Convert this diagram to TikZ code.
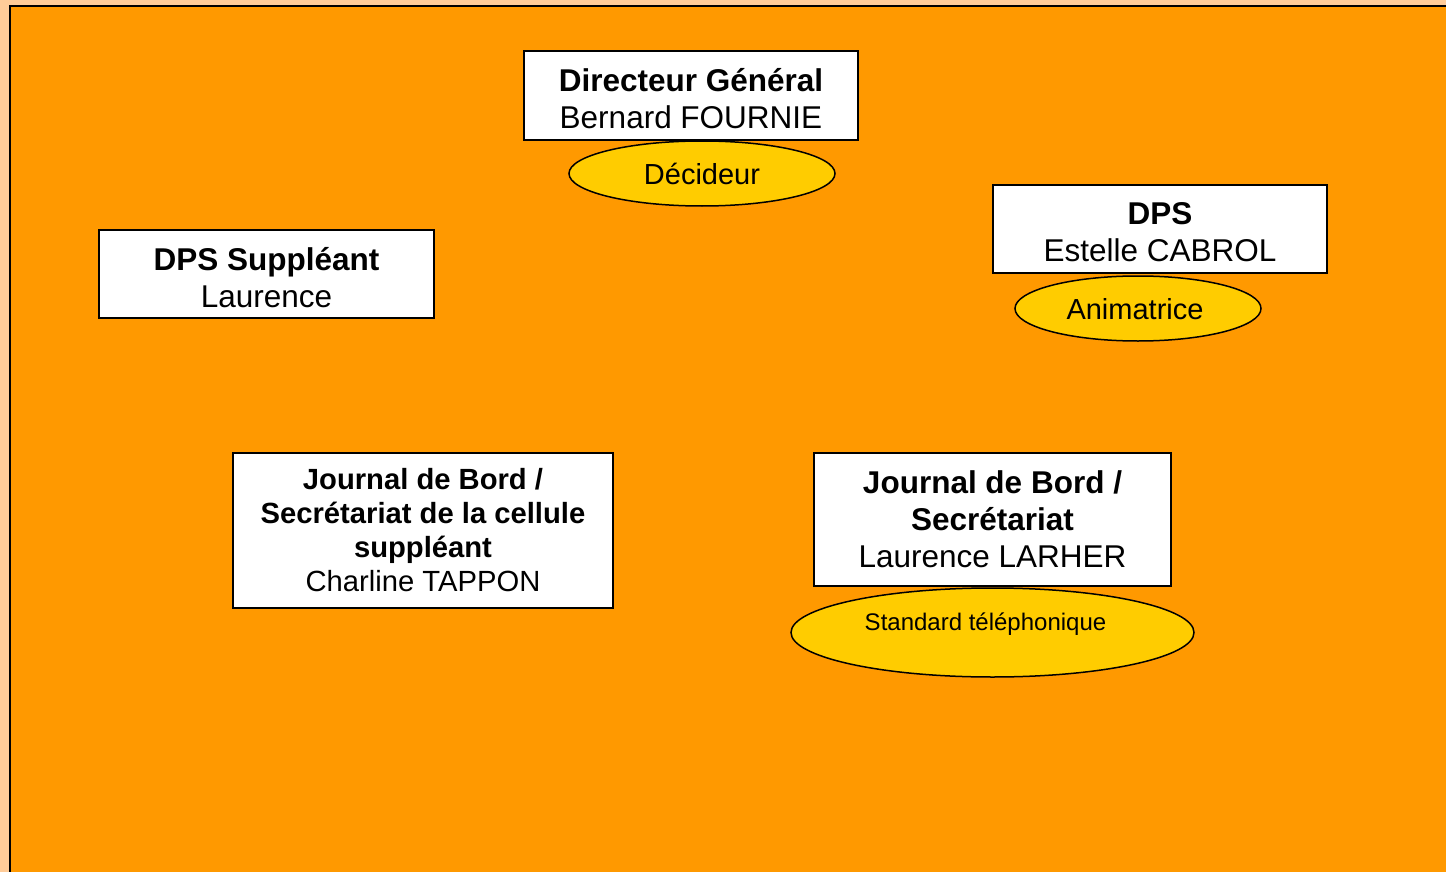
\documentclass[tikz,border=0pt]{standalone}
\usepackage{fontspec}
\setmainfont{Liberation Sans}
\usetikzlibrary{shapes.geometric}
\definecolor{peach}{HTML}{FFCC99}
\definecolor{panel}{HTML}{FF9900}
\definecolor{role}{HTML}{FFCC00}
\begin{document}
\begin{tikzpicture}[x=1pt,y=-1pt,
  person/.style={draw=black, line width=1.5pt, fill=white, align=center,
    inner sep=0pt, font=\fontsize{31.5}{37}\selectfont},
  caption/.style={label={[align=center, inner sep=0pt, yshift=-3.5pt,
    font=\fontsize{31.5}{37}\selectfont]center:#1}},
  rolebox/.style={draw=black, line width=1.5pt, fill=role, ellipse, inner sep=0pt},
  roletext/.style={font=\fontsize{29}{34}\selectfont}]
\useasboundingbox (0,0) rectangle (1446,872);
\fill[peach] (0,0) rectangle (1446,872);
\begin{scope}
  \clip (0,0) rectangle (1446,872);
  \draw[fill=panel, line width=2.5pt] (10,6) rectangle (1460,890);
\end{scope}

% people
\node[person, minimum width=334pt, minimum height=89pt,
  caption={\textbf{Directeur Général}\\Bernard FOURNIE}] (dg) at (691,95.5) {};
\node[person, minimum width=334pt, minimum height=88pt,
  caption={\textbf{DPS}\\Estelle CABROL}] (dps) at (1160,229) {};
\node[person, minimum width=335pt, minimum height=88pt,
  caption={\textbf{DPS Suppléant}\\Laurence}] (sup) at (266.5,274) {};
\node[person, minimum width=380pt, minimum height=155pt,
  font=\fontsize{29.2}{34}\selectfont] (jbl) at (423,530.5)
  {\textbf{Journal de Bord /}\\\textbf{Secrétariat de la cellule}\\\textbf{suppléant}\\Charline TAPPON};
\node[person, minimum width=357pt, minimum height=133pt] (jbr) at (992.5,519.5)
  {\textbf{Journal de Bord /}\\\textbf{Secrétariat}\\Laurence LARHER};

% roles
\node[rolebox, minimum width=266pt, minimum height=65pt, roletext] (dec) at (702,173.5) {Décideur};
\node[rolebox, minimum width=246pt, minimum height=65pt] (anim) at (1138,308.5) {};
\node[roletext] (animtext) at (1135,309.5) {Animatrice};
\node[rolebox, minimum width=403pt, minimum height=89pt] (std) at (992.5,632.5) {};
\node[font=\fontsize{24}{28}\selectfont] (stdtext) at (985.5,624) {Standard téléphonique};
\end{tikzpicture}
\end{document}
